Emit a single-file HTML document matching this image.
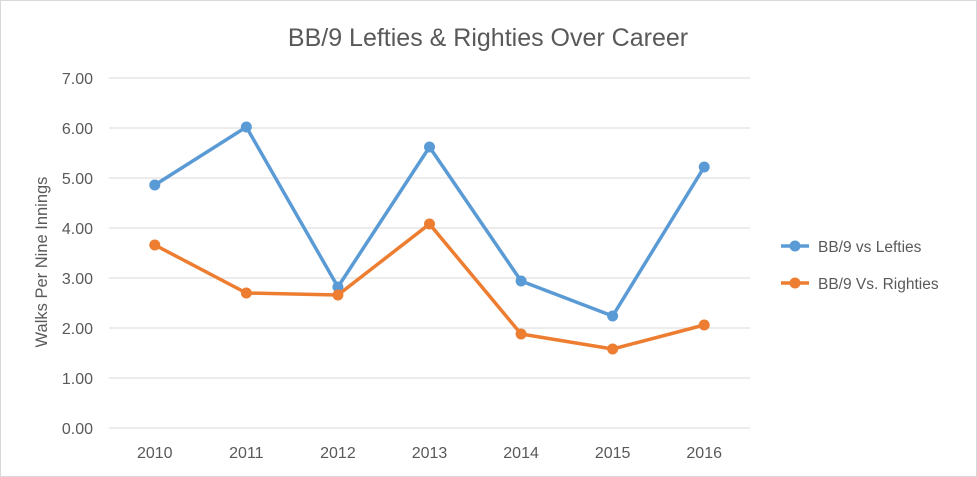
<!DOCTYPE html>
<html><head><meta charset="utf-8"><style>
body{margin:0;background:#fff;}
svg{display:block;font-family:"Liberation Sans",sans-serif;}
</style></head><body>
<svg id="chart" width="977" height="477">
<rect x="0.5" y="0.5" width="976" height="476" fill="#fff" stroke="#d9d9d9"/>
<text x="488" y="46" text-anchor="middle" font-size="25" fill="#595959">BB/9 Lefties &amp; Righties Over Career</text>
<text transform="translate(47,262) rotate(-90)" text-anchor="middle" font-size="16.5" fill="#595959">Walks Per Nine Innings</text>
<g id="grid"></g><g id="series"></g>
<g>
<g>
<line x1="781" y1="246" x2="809" y2="246" stroke="#5b9bd5" stroke-width="3.5"/><circle cx="795" cy="246" r="5.5" fill="#5b9bd5"/>
<text x="818" y="252" font-size="15.5" fill="#595959">BB/9 vs Lefties</text></g>
<g>
<line x1="781" y1="283" x2="809" y2="283" stroke="#ed7d31" stroke-width="3.5"/><circle cx="795" cy="283" r="5.5" fill="#ed7d31"/>
<text x="818" y="289" font-size="15.5" fill="#595959">BB/9 Vs. Righties</text></g>
</g>
</svg>
<script>
const categories=["2010","2011","2012","2013","2014","2015","2016"];
const lefties=[4.86,6.02,2.82,5.62,2.94,2.24,5.22];
const righties=[3.66,2.70,2.66,4.08,1.88,1.58,2.06];
const yTicks=[0,1,2,3,4,5,6,7];
const NS="http://www.w3.org/2000/svg";
const x0=109,x1=750,yb=428,yt=78,ymax=7;
const bw=(x1-x0)/categories.length;
const xs=i=>x0+bw*(i+0.5);
const ys=v=>yb-(v/ymax)*(yb-yt);
const grid=document.getElementById('grid'),ser=document.getElementById('series');
function mk(t,a,p){const e=document.createElementNS(NS,t);for(const k in a)e.setAttribute(k,a[k]);p.appendChild(e);return e;}
yTicks.forEach(v=>{
 const l=mk('line',{x1:x0,x2:x1,y1:ys(v),y2:ys(v),stroke:'#d9d9d9','stroke-width':1},grid);
 
 
 const t=mk('text',{x:93,y:ys(v)+6,'text-anchor':'end','font-size':16,fill:'#595959'},grid);
 t.textContent=v.toFixed(2);
 
 
});
categories.forEach((c,i)=>{
 const t=mk('text',{x:xs(i),y:458,'text-anchor':'middle','font-size':16,fill:'#595959'},grid);
 t.textContent=c;
 
 
});
function draw(vals,color,name){
 const p=mk('polyline',{points:vals.map((v,i)=>xs(i)+','+ys(v)).join(' '),fill:'none',stroke:color,'stroke-width':3.5,'stroke-linejoin':'round'},ser);
 
 
 vals.forEach((v,i)=>{
  const c=mk('circle',{cx:xs(i),cy:ys(v),r:5.5,fill:color},ser);
  
  
 });
}
draw(lefties,'#5b9bd5','lefties');
draw(righties,'#ed7d31','righties');
</script>
</body></html>
